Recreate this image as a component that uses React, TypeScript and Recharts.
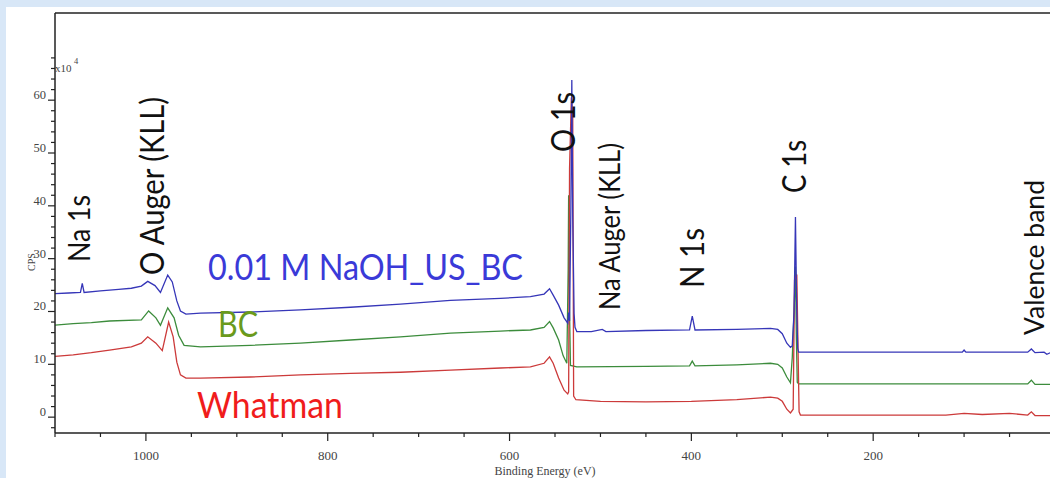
import { LineChart, Line, XAxis, YAxis, ReferenceLine } from "recharts";

// XPS survey spectra, [binding energy (eV), CPS x 10^4]
const naohSpectrum: [number, number][] = [
  [1100, 23.4], [1085, 23.5], [1072, 23.6], [1070, 25.3], [1068, 23.6], [1050, 23.9],
  [1030, 24.2], [1016, 24.4], [1005, 24.8], [998, 25.7], [990, 24.9], [984, 23.6],
  [976, 26.9], [971, 25.6], [966, 22.0], [962, 20.1], [956, 19.5], [940, 19.7],
  [885, 19.9], [830, 20.3], [775, 20.8], [720, 21.4], [665, 22.1], [610, 22.5],
  [577, 22.8], [562, 23.3], [556, 24.3], [552, 23.1], [546, 21.2], [540, 18.8],
  [536, 17.8], [535, 19.8], [534, 18.2], [532.5, 40], [531.5, 63.8], [530.5, 38],
  [529, 19.6], [528, 17], [526, 16.2], [510, 16.2], [498, 16.6], [494, 16.2],
  [450, 16.4], [402, 16.5], [399, 19.1], [396, 16.5], [350, 16.6], [313, 16.8],
  [305, 16.6], [300, 15.8], [295, 14.0], [291, 13.2], [289, 13.5], [287, 20],
  [285.5, 37.9], [284.5, 25], [284, 19.5], [283, 13], [282, 12.3], [150, 12.3],
  [102, 12.3], [100, 12.7], [98, 12.3], [30, 12.3], [26, 12.9], [22, 12.2],
  [12, 12.3], [9, 11.9], [5, 12.2], [0, 12.2],
];

const bcSpectrum: [number, number][] = [
  [1100, 17.4], [1080, 17.7], [1060, 17.9], [1040, 18.2], [1005, 18.4], [997, 20.1],
  [989, 18.8], [984, 17.4], [976, 20.7], [969, 18.8], [964, 15.5], [958, 13.6],
  [940, 13.3], [885, 13.6], [830, 14.0], [775, 14.6], [720, 15.2], [665, 15.9],
  [610, 16.3], [577, 16.5], [562, 17.0], [556, 18.1], [552, 16.9], [546, 14.6],
  [541, 11.6], [537, 10.2], [535.5, 28], [535, 42], [534, 20], [533, 9.8],
  [526, 9.5], [450, 9.6], [402, 9.7], [399, 10.6], [396, 9.7], [350, 9.9],
  [313, 10.2], [305, 10.0], [300, 9.3], [295, 7.6], [291, 6.5], [289, 11.3],
  [287, 20], [285.5, 28.5], [284.5, 15], [283.5, 6.6], [282, 6.3], [30, 6.3],
  [26, 7.0], [22, 6.2], [0, 6.2],
];

const whatmanSpectrum: [number, number][] = [
  [1100, 11.5], [1080, 11.8], [1060, 12.2], [1040, 12.7], [1016, 13.3], [1005, 14.0],
  [998, 15.2], [989, 14.0], [982, 12.6], [975, 18.0], [970, 15.2], [966, 10.4],
  [962, 8.0], [956, 7.4], [940, 7.4], [885, 7.6], [830, 8.0], [775, 8.3],
  [720, 8.5], [665, 8.9], [610, 9.3], [577, 9.5], [562, 10.2], [556, 11.4],
  [552, 10.2], [546, 7.4], [540, 5.1], [536, 4.4], [535, 4.8], [534, 47],
  [532, 60.5], [530.5, 57], [529.5, 4], [527, 3.3], [500, 3.0], [450, 2.9],
  [400, 3.0], [350, 3.3], [313, 3.8], [305, 3.6], [300, 3.0], [295, 1.5],
  [291, 0.8], [288, 1.5], [286.5, 26], [284, 27], [281.5, 1], [280, 0.4],
  [120, 0.4], [100, 0.7], [80, 0.5], [50, 0.7], [30, 0.4], [26, 1.0],
  [22, 0.3], [0, 0.3],
];

const X_TICKS = [1100, 1050, 1000, 950, 900, 850, 800, 750, 700, 650, 600, 550, 500, 450, 400, 350, 300, 250, 200, 150, 100, 50, 0];
const X_LABELS = [1000, 800, 600, 400, 200];
const Y_TICKS = [-2, 0, 2, 4, 6, 8, 10, 12, 14, 16, 18, 20, 22, 24, 26, 28, 30, 32, 34, 36, 38, 40, 42, 44, 46, 48, 50, 52, 54, 56, 58, 60, 62, 64, 66, 68];
const Y_LABELS = [0, 10, 20, 30, 40, 50, 60];

const toRows = (pts: [number, number][]) => pts.map(([be, cps]) => ({ be, cps }));

const axisColor = "#222";
const tickFont = "'Liberation Serif', 'DejaVu Serif', serif";
const noteFont = "Lato, 'Open Sans', sans-serif";

function XTick({ x, y, payload }: any) {
  const major = X_LABELS.includes(payload.value);
  return (
    <g>
      <line x1={x} x2={x} y1={y} y2={y + (major ? 8 : 4)} stroke={axisColor} strokeWidth={1.2} />
      {major && (
        <text x={x} y={y + 27} textAnchor="middle" fontSize={13} fontFamily={tickFont} fill="#444">
          {payload.value}
        </text>
      )}
    </g>
  );
}

function YTick({ x, y, payload }: any) {
  const major = Y_LABELS.includes(payload.value);
  return (
    <g>
      <line x1={x - (major ? 7 : 4)} x2={x} y1={y} y2={y} stroke={axisColor} strokeWidth={1.2} />
      {major && (
        <text x={x - 9} y={y - 1} textAnchor="end" fontSize={12.5} fontFamily={tickFont} fill="#444">
          {payload.value}
        </text>
      )}
    </g>
  );
}

function Vertical({ x, y, len, size, children }: any) {
  return (
    <text
      x={x}
      y={y}
      transform={`rotate(-90 ${x} ${y})`}
      fontSize={size}
      fontFamily={noteFont}
      fill="#111"
      textLength={len}
      lengthAdjust="spacingAndGlyphs"
    >
      {children}
    </text>
  );
}

export default function App() {
  return (
    <div
      style={{
        position: "absolute",
        left: 0,
        top: 0,
        width: 1050,
        height: 478,
        overflow: "hidden",
        background: "#d8e7f7",
      }}
    >
      <div style={{ position: "absolute", left: 6, top: 7, right: 0, bottom: 0, background: "#fff" }} />
      <div style={{ position: "absolute", left: 0, top: 0 }}>
        <LineChart width={1060} height={478} margin={{ top: 13, right: 5, left: 0, bottom: 0 }}>
          <XAxis
            dataKey="be"
            type="number"
            domain={[0, 1100]}
            reversed
            allowDataOverflow
            ticks={X_TICKS}
            interval={0}
            tickSize={0}
            tickMargin={0}
            tickLine={false}
            tick={<XTick />}
            height={45}
            axisLine={{ stroke: axisColor, strokeWidth: 1.5 }}
          />
          <YAxis
            type="number"
            domain={[-3, 76.5]}
            allowDataOverflow
            ticks={Y_TICKS}
            interval={0}
            tickSize={0}
            tickMargin={0}
            tickLine={false}
            tick={<YTick />}
            width={55}
            axisLine={{ stroke: axisColor, strokeWidth: 1.5 }}
          />
          <ReferenceLine y={76.5} stroke={axisColor} strokeWidth={1.5} />
          <Line data={toRows(bcSpectrum)} dataKey="cps" stroke="#3c8c3c" strokeWidth={1.3} dot={false} isAnimationActive={false} />
          <Line data={toRows(whatmanSpectrum)} dataKey="cps" stroke="#cc3a3a" strokeWidth={1.3} dot={false} isAnimationActive={false} />
          <Line data={toRows(naohSpectrum)} dataKey="cps" stroke="#3636b8" strokeWidth={1.3} dot={false} isAnimationActive={false} />
        </LineChart>
      </div>
      <svg width={1050} height={478} style={{ position: "absolute", left: 0, top: 0, pointerEvents: "none" }}>
        <text x={55} y={72} fontSize={11} fontFamily={tickFont} fill="#444">
          x10
        </text>
        <text x={74} y={64} fontSize={8.5} fontFamily={tickFont} fill="#444">
          4
        </text>
        <text x={35} y={262} transform="rotate(-90 35 262)" textAnchor="middle" fontSize={10} fontFamily={tickFont} fill="#444">
          CPS
        </text>
        <text x={545} y={475} textAnchor="middle" fontSize={12} fontFamily={tickFont} fill="#444">
          Binding Energy (eV)
        </text>

        <Vertical x={90} y={262} len={67} size={30}>Na 1s</Vertical>
        <Vertical x={164} y={275} len={178} size={32}>O Auger (KLL)</Vertical>
        <Vertical x={575} y={152} len={60} size={33}>O 1s</Vertical>
        <Vertical x={620} y={310} len={167} size={28}>Na Auger (KLL)</Vertical>
        <Vertical x={704} y={288} len={60} size={33}>N 1s</Vertical>
        <Vertical x={806} y={193} len={53} size={32}>C 1s</Vertical>
        <Vertical x={1044} y={335} len={155} size={26}>Valence band</Vertical>

        <text x={208} y={280} fontSize={36} fontFamily={noteFont} fill="#3a3ad8" textLength={315} lengthAdjust="spacingAndGlyphs">
          0.01 M NaOH_US_BC
        </text>
        <text x={218} y={337} fontSize={36} fontFamily={noteFont} fill="#6a9a1c" textLength={40} lengthAdjust="spacingAndGlyphs">
          BC
        </text>
        <text x={197} y={418} fontSize={36} fontFamily={noteFont} fill="#f01c1c" textLength={146} lengthAdjust="spacingAndGlyphs">
          Whatman
        </text>
      </svg>
    </div>
  );
}
